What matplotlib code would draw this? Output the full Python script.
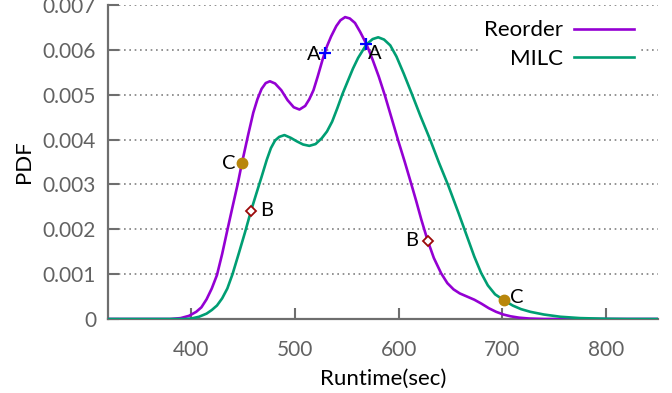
import matplotlib
matplotlib.use("Agg")
import matplotlib.pyplot as plt

plt.rcParams['font.family'] = ['Lato', 'DejaVu Sans']

# ---- data ----
reorder_x = [320, 380, 390, 398, 405, 410, 415, 420, 425, 430,
             435, 440, 445, 449, 455, 460, 464, 468, 472, 476,
             481, 487, 493, 499, 504.5, 510, 514, 518, 522, 527,
             531, 535, 540, 544, 548.5, 553, 558, 563, 569, 575,
             581, 587, 593, 600, 606, 612, 617, 622, 628, 634,
             641, 647, 653, 659, 666, 673, 680, 687, 694, 701,
             708, 716, 726, 740, 850]
reorder_y = [0, 0, 0.00002, 0.00007, 0.00016, 0.00026, 0.00044, 0.00068, 0.00098, 0.00145,
             0.00198, 0.0025, 0.00301, 0.00347, 0.0041, 0.0046, 0.0049, 0.00513, 0.00526, 0.0053,
             0.00525, 0.0051, 0.00488, 0.00472, 0.00467, 0.00475, 0.0049, 0.0051, 0.0054, 0.0058,
             0.00608, 0.0063, 0.00653, 0.00666, 0.00673, 0.0067, 0.0066, 0.0064, 0.00613, 0.00578,
             0.0054, 0.00497, 0.0045, 0.00395, 0.0035, 0.00303, 0.00263, 0.00221, 0.00175, 0.00136,
             0.00102, 0.0008, 0.00066, 0.00057, 0.0005, 0.00043, 0.00034, 0.00024, 0.00016, 0.0001,
             0.00006, 0.00003, 0.00001, 0, 0]

milc_x = [320, 395, 400, 407.7, 415, 420, 425, 430, 435, 440,
          446, 452, 457.8, 463, 468, 473, 477, 481, 485, 490,
          496, 502, 508, 514, 520, 526, 531, 536, 541, 546,
          551, 556, 561, 565.8, 569, 575, 580.4, 586, 592, 598,
          605, 612.6, 621, 630.4, 639, 648, 653, 658, 663, 668,
          673, 679.5, 686, 693, 701.4, 710, 718, 727, 740, 756,
          775, 800, 820, 850]
milc_y = [0, 0, 0.00001, 0.00005, 0.00012, 0.0002, 0.0003, 0.00046, 0.00068, 0.001,
          0.00146, 0.00193, 0.00241, 0.0028, 0.00317, 0.00355, 0.00381, 0.00398, 0.00406, 0.0041,
          0.00404, 0.00396, 0.00389, 0.00386, 0.0039, 0.00403, 0.00418, 0.0044, 0.0047, 0.00502,
          0.0053, 0.00558, 0.00582, 0.006, 0.00612, 0.00624, 0.00628, 0.00623, 0.0061, 0.00585,
          0.00547, 0.00503, 0.00453, 0.004, 0.00348, 0.00297, 0.00266, 0.00235, 0.00203, 0.00171,
          0.00139, 0.00103, 0.00075, 0.00055, 0.00042, 0.0003, 0.00022, 0.00016, 0.0001, 0.00005,
          0.00002, 0.000005, 0, 0]

a_x = [529, 569]
a_y = [0.00594, 0.00613]
b_x = [457.8, 628]
b_y = [0.00241, 0.00175]
c_x = [448.7, 701.4]
c_y = [0.00347, 0.00042]

xticks = [400, 500, 600, 700, 800]
yticks = [0, 0.001, 0.002, 0.003, 0.004, 0.005, 0.006, 0.007]
ytick_labels = ['0', '0.001', '0.002', '0.003', '0.004', '0.005', '0.006', '0.007']

# ---- figure ----
fig = plt.figure(figsize=(6.72, 3.93), dpi=100)
ax = fig.add_axes([108/672, 1 - 319/393, 550/672, 314/393])

purple = '#9400D3'
green = '#009E73'
gray = '#6e6e6e'

ax.plot(reorder_x, reorder_y, color=purple, lw=1.9, label='Reorder', zorder=3,
        solid_joinstyle='round')
ax.plot(milc_x, milc_y, color=green, lw=1.9, label='MILC', zorder=3,
        solid_joinstyle='round')

ax.plot(a_x, a_y, ls='none', marker='+', ms=8, mew=1.6, color='#0000ff', zorder=4)
ax.plot(b_x, b_y, ls='none', marker='D', ms=5.5, mew=1.3, mfc='white', mec='#9b0a0a', zorder=4)
ax.plot(c_x, c_y, ls='none', marker='o', ms=7.5, color='#b8860b', zorder=4)

lab_fs = 14.5
def lab(x, y, s, dx, dy, ha):
    ax.annotate(s, (x, y), xytext=(dx, dy), textcoords='offset pixels',
                ha=ha, va='center', fontsize=lab_fs, color='black', zorder=5)

lab(a_x[0], a_y[0], 'A', -4, -2, 'right')
lab(a_x[1], a_y[1], 'A', 2, -9, 'left')
lab(b_x[0], b_y[0], 'B', 9, 0, 'left')
lab(b_x[1], b_y[1], 'B', -9, 0, 'right')
lab(c_x[0], c_y[0], 'C', -6, 0, 'right')
lab(c_x[1], c_y[1], 'C', 6, 3, 'left')

ax.set_xlim(320, 850)
ax.set_ylim(0, 0.007)
ax.set_xticks(xticks)
ax.set_yticks(yticks)
ax.set_yticklabels(ytick_labels)

ax.grid(axis='y', color='#808080', linestyle=(0, (1, 2.2)), lw=1.2, zorder=1)
ax.set_axisbelow(True)

for s in ['top', 'right']:
    ax.spines[s].set_visible(False)
for s in ['left', 'bottom']:
    ax.spines[s].set_color(gray)
    ax.spines[s].set_linewidth(1.6)

ax.tick_params(axis='both', direction='in', length=8, width=1.5, color=gray,
               labelcolor='#626262', labelsize=15)
ax.tick_params(axis='x', pad=15)
ax.tick_params(axis='y', pad=8.5)

ax.set_xlabel('Runtime(sec)', fontsize=16, labelpad=6.5)
ax.set_ylabel('PDF', fontsize=16, labelpad=6)

leg = ax.legend(loc='upper right', bbox_to_anchor=(0.969, 0.972), markerfirst=False,
                fontsize=16, frameon=True, facecolor='white', edgecolor='none',
                framealpha=1, fancybox=False, handlelength=2.7, handletextpad=0.5,
                labelspacing=0.38, borderpad=0.3, borderaxespad=0)
for t in leg.get_texts():
    t.set_ha('right')

fig.savefig('out.png', dpi=100)
